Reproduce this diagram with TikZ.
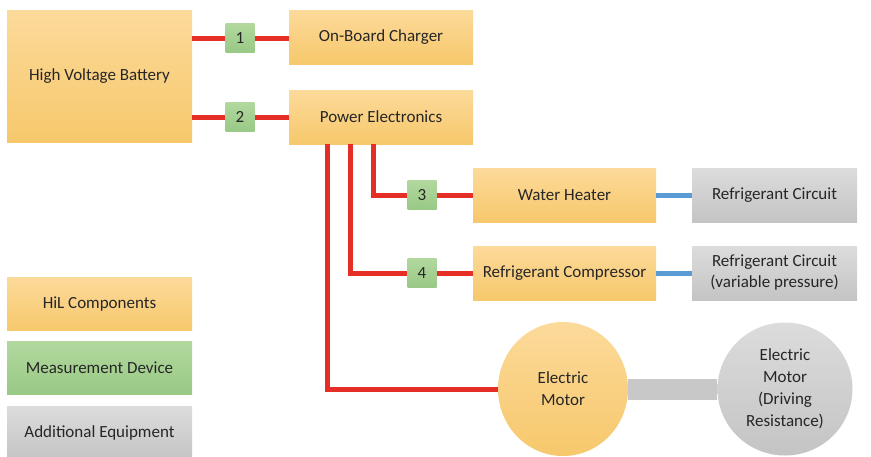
\documentclass[tikz,border=0pt]{standalone}
\usepackage{fontspec}
\setmainfont{Carlito}
\usetikzlibrary{shapes.geometric}
\definecolor{hilA}{HTML}{FCDA9A}
\definecolor{hilB}{HTML}{F7C86C}
\definecolor{measA}{HTML}{B2D89E}
\definecolor{measB}{HTML}{98C985}
\definecolor{addA}{HTML}{DCDCDC}
\definecolor{addB}{HTML}{C4C4C4}
\definecolor{redline}{HTML}{E52E26}
\definecolor{blueline}{HTML}{5B9BD5}
\definecolor{greyband}{HTML}{C8C8C8}
\definecolor{txt}{HTML}{262626}
\tikzset{
  basefont/.style={font=\fontsize{17}{21}\selectfont, text=txt},
  hil/.style={rectangle, top color=hilA, bottom color=hilB, draw=none, inner sep=0pt, basefont},
  meas/.style={rectangle, top color=measA, bottom color=measB, draw=none, minimum width=29pt, minimum height=29pt, inner sep=0pt, basefont},
  addeq/.style={rectangle, top color=addA, bottom color=addB, draw=none, inner sep=0pt, align=center, basefont},
  redw/.style={draw=redline, line width=5pt},
  bluew/.style={draw=blueline, line width=5pt},
  greyw/.style={draw=greyband, line width=21pt},
}
\begin{document}
\begin{tikzpicture}[x=1pt,y=-1pt]
\useasboundingbox (0,0) rectangle (871,456);
% nodes
\node[hil, minimum width=185pt, minimum height=132pt] (hvb) at (99.5,76) {High Voltage Battery};
\node[hil, minimum width=184pt, minimum height=54pt] (obc) at (381,37) {On-Board Charger};
\node[hil, minimum width=184pt, minimum height=54pt] (pe) at (381,117) {Power Electronics};
\node[hil, minimum width=183pt, minimum height=54pt] (wh) at (564.5,195) {Water Heater};
\node[hil, minimum width=183pt, minimum height=54pt] (rc) at (564.5,273) {Refrigerant Compressor};
\node[addeq, minimum width=165pt, minimum height=54pt] (rf1) at (774.5,195) {Refrigerant Circuit};
\node[addeq, minimum width=165pt, minimum height=54pt] (rf2) at (774.5,273) {Refrigerant Circuit\\(variable pressure)};
\node[meas] (m1) at (240,38) {1};
\node[meas] (m2) at (240,117) {2};
\node[meas] (m3) at (422,195) {3};
\node[meas] (m4) at (422,273) {4};
\node[ellipse, top color=hilA, bottom color=hilB, minimum width=130pt, minimum height=134pt, inner sep=0pt, align=center, font=\fontsize{17}{22}\selectfont, text=txt] (em) at (563,389) {Electric\\Motor};
\node[ellipse, top color=addA, bottom color=addB, minimum width=135pt, minimum height=133pt, inner sep=0pt, align=center, font=\fontsize{17}{22}\selectfont, text=txt] (emd) at (785,389) {Electric\\Motor\\(Driving\\Resistance)};
% legend
\node[hil, minimum width=185pt, minimum height=53pt] (lg1) at (99.5,304) {HiL Components};
\node[rectangle, top color=measA, bottom color=measB, minimum width=185pt, minimum height=53pt, inner sep=0pt, basefont] (lg2) at (99.5,368) {Measurement Device};
\node[addeq, minimum width=185pt, minimum height=53pt] (lg3) at (99.5,433) {Additional Equipment};
% connectors
\draw[redw] (hvb.east |- m1) -- (m1);
\draw[redw] (m1) -- (obc.west |- m1);
\draw[redw] (hvb.east |- m2) -- (m2);
\draw[redw] (m2) -- (pe);
\coordinate (p3) at (373,144);
\coordinate (p4) at (350,144);
\coordinate (p5) at (327,144);
\draw[redw] (p3) |- (m3);
\draw[redw] (m3) -- (wh);
\draw[redw] (p4) |- (m4);
\draw[redw] (m4) -- (rc);
\draw[redw] (p5) |- (em.west);
\draw[bluew] (wh) -- (rf1);
\draw[bluew] (rc) -- (rf2);
\draw[greyw] (em.east) -- (emd.west);
\end{tikzpicture}
\end{document}
